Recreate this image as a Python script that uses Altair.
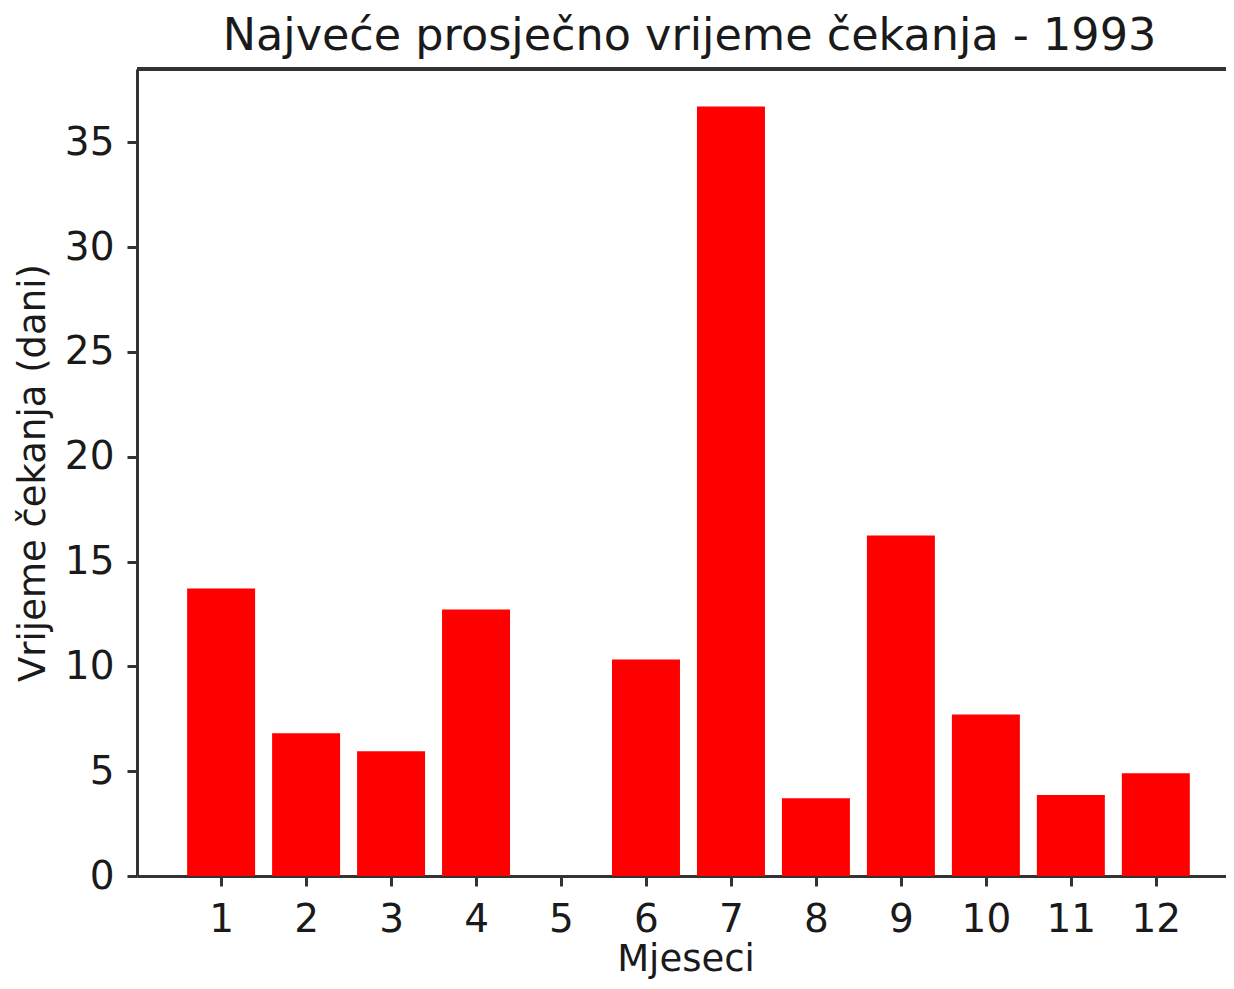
import altair as alt
import pandas as pd

months = [1, 2, 3, 4, 5, 6, 7, 8, 9, 10, 11, 12]
values = [13.71, 6.81, 5.95, 12.71, 0.0, 10.33, 36.71, 3.71, 16.24, 7.71, 3.86, 4.90]
x_ticks = [1, 2, 3, 4, 5, 6, 7, 8, 9, 10, 11, 12]
y_ticks = [0, 5, 10, 15, 20, 25, 30, 35]

title = "Najveće prosječno vrijeme čekanja - 1993"
x_title = "Mjeseci"
y_title = "Vrijeme čekanja (dani)"

df = pd.DataFrame({"month": months, "value": values})

W = 1097
H = 807
FONT = "DejaVu Sans"
AX = "#333333"
TXT = "#1a1a1a"

xscale = alt.Scale(domain=[0.01, 12.92], nice=False, zero=False)
yscale = alt.Scale(domain=[0, 38.5], nice=False)

bars = alt.Chart(df).transform_calculate(
    x0="datum.month - 0.4", x1="datum.month + 0.4", base="0"
).mark_bar(color="#ff0000").encode(
    x=alt.X("x0:Q", scale=xscale, title=x_title,
            axis=alt.Axis(values=x_ticks, grid=False, domainColor=AX, domainWidth=3,
                          tickColor=AX, tickWidth=3, tickSize=10, labelPadding=14,
                          labelFont=FONT, labelFontSize=39, labelColor=TXT,
                          titleFont=FONT, titleFontSize=37, titleFontWeight="normal",
                          titleColor=TXT, titlePadding=2, labelFlush=False)),
    x2="x1:Q",
    y=alt.Y("value:Q", scale=yscale, title=y_title,
            axis=alt.Axis(values=y_ticks, grid=False, domainColor=AX, domainWidth=3,
                          tickColor=AX, tickWidth=3, tickSize=10, labelPadding=13,
                          labelFont=FONT, labelFontSize=39, labelColor=TXT,
                          titleFont=FONT, titleFontSize=37, titleFontWeight="normal",
                          titleColor=TXT, titlePadding=12, labelFlush=False)),
    y2="base:Q",
)

top = alt.Chart(df).mark_rule(color=AX, strokeWidth=3).encode(
    x=alt.value(0), x2=alt.value(W), y=alt.value(0)
)

chart = alt.layer(bars, top).properties(
    width=W, height=H,
    title=alt.TitleParams(title, font=FONT, fontSize=44.5, fontWeight="normal",
                          color=TXT, offset=8, dx=4),
    autosize=alt.AutoSizeParams(type="none"),
    padding={"left": 129, "top": 61, "right": -8, "bottom": 104},
).configure_view(stroke=None)

chart.save("out.html", embed_options={"renderer": "svg", "actions": False})
